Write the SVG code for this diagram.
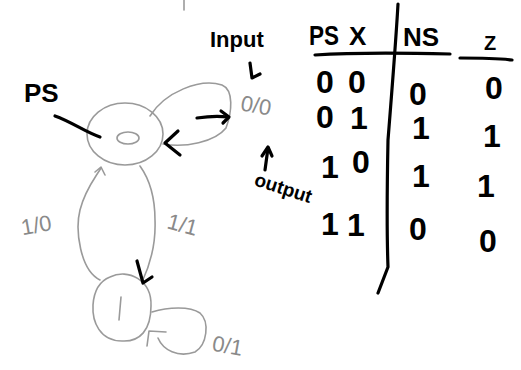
<svg xmlns="http://www.w3.org/2000/svg" width="521" height="370" viewBox="0 0 521 370">
  <style>
    .pencil { fill: none; stroke: #9a9a9a; stroke-width: 1.6; stroke-linecap: round; stroke-linejoin: round; }
    .ink { fill: none; stroke: #000; stroke-width: 3.2; stroke-linecap: round; stroke-linejoin: round; }
    .gtxt { font-family: "Liberation Sans", Arial, sans-serif; fill: #8a8a8a; font-size: 22px; }
    .btxt { font-family: "Liberation Sans", Arial, sans-serif; fill: #000; font-weight: bold; }
    .cell { font-family: "Liberation Sans", Arial, sans-serif; fill: #000; font-size: 32px; font-weight: bold; text-anchor: middle; }
  </style>
  <rect width="521" height="370" fill="#fff"/>

  <!-- stray pencil tick -->
  <path class="pencil" d="M184 0 L184 10"/>

  <!-- state 0 -->
  <g id="state0">
    <ellipse class="pencil" cx="125" cy="134" rx="38" ry="31"/>
    <ellipse class="pencil" cx="128" cy="138" rx="11" ry="6"/>
  </g>

  <!-- state 1 -->
  <g id="state1">
    <path class="pencil" d="M110 277 C128 268 152 280 151 306 C151 330 140 342 122 341 C100 341 92 322 93 305 C94 290 100 281 110 277 Z"/>
    <path class="pencil" d="M121 297 L119 320"/>
  </g>

  <!-- transitions -->
  <g id="connectors">
    <!-- self loop on state 0 -->
    <path class="pencil" d="M150 116 C165 92 200 78 222 85 C234 90 232 112 226 128 C215 142 185 148 163 144"/>
    <!-- 1 -> 0 -->
    <path class="pencil" d="M100 280 C80 270 75 230 80 210 C85 190 95 178 101 168"/>
    <path class="pencil" d="M95 172 L101 167 L105 175"/>
    <!-- 0 -> 1 -->
    <path class="pencil" d="M140 166 C150 180 155 200 155 220 C156 245 150 265 142 282"/>
    <path class="ink" d="M137 261 L143 283 L152 277"/>
    <!-- self loop on state 1 -->
    <path class="pencil" d="M152 312 C168 307 190 306 200 313 C210 322 207 345 195 352 C178 358 163 350 158 338"/>
    <path class="pencil" d="M147 346 L149 331 L166 332"/>
  </g>

  <!-- annotations -->
  <g id="labels">
    <text class="btxt" x="24" y="102" font-size="26">PS</text>
    <path class="ink" d="M55 116 C72 122 85 132 100 137"/>
    <path class="ink" d="M197 118 C210 116 220 116 228 117"/>
    <path class="ink" d="M221 111 L229 117 L223 123"/>
    <path class="ink" d="M178 131 L165 143 L180 155"/>

    <text class="btxt" x="210" y="47" font-size="22">Input</text>
    <path class="ink" d="M250 63 L252 78 L260 74"/>
    <text class="gtxt" x="241" y="114" transform="rotate(10 262 105)">0/0</text>
    <path class="ink" d="M265 170 L268 148"/>
    <path class="ink" d="M262 156 L268 147 L272 156"/>
    <text class="btxt" x="250" y="194" font-size="19" transform="rotate(18 280 200)">output</text>

    <text class="gtxt" x="20" y="232" transform="rotate(-10 40 220)">1/0</text>
    <text class="gtxt" x="168" y="232" transform="rotate(15 182 222)">1/1</text>
    <text class="gtxt" x="213" y="354" transform="rotate(10 232 342)">0/1</text>
  </g>

  <!-- state table -->
  <g id="table">
    <path class="ink" d="M398 4 C396 40 392 90 388 140 C387 190 387 240 388 267 L378 293"/>
    <path class="ink" d="M315 55 C360 52 410 53 450 54"/>
    <path class="ink" d="M460 58 C480 58 495 58 512 60"/>
    <text class="btxt" x="309" y="45" font-size="28" textLength="30" lengthAdjust="spacingAndGlyphs">PS</text>
    <text class="btxt" x="349" y="45" font-size="26">X</text>
    <text class="btxt" x="403" y="46" font-size="26">NS</text>
    <text class="btxt" x="484" y="50" font-size="20">Z</text>

    <text class="cell" x="325" y="93">0</text>
    <text class="cell" x="357" y="93">0</text>
    <text class="cell" x="418" y="105">0</text>
    <text class="cell" x="494" y="99">0</text>

    <text class="cell" x="325" y="128">0</text>
    <text class="cell" x="359" y="129">1</text>
    <text class="cell" x="421" y="139">1</text>
    <text class="cell" x="492" y="147">1</text>

    <text class="cell" x="330" y="178">1</text>
    <text class="cell" x="361" y="173">0</text>
    <text class="cell" x="421" y="187">1</text>
    <text class="cell" x="486" y="197">1</text>

    <text class="cell" x="330" y="235">1</text>
    <text class="cell" x="356" y="236">1</text>
    <text class="cell" x="418" y="240">0</text>
    <text class="cell" x="488" y="252">0</text>
  </g>
</svg>
